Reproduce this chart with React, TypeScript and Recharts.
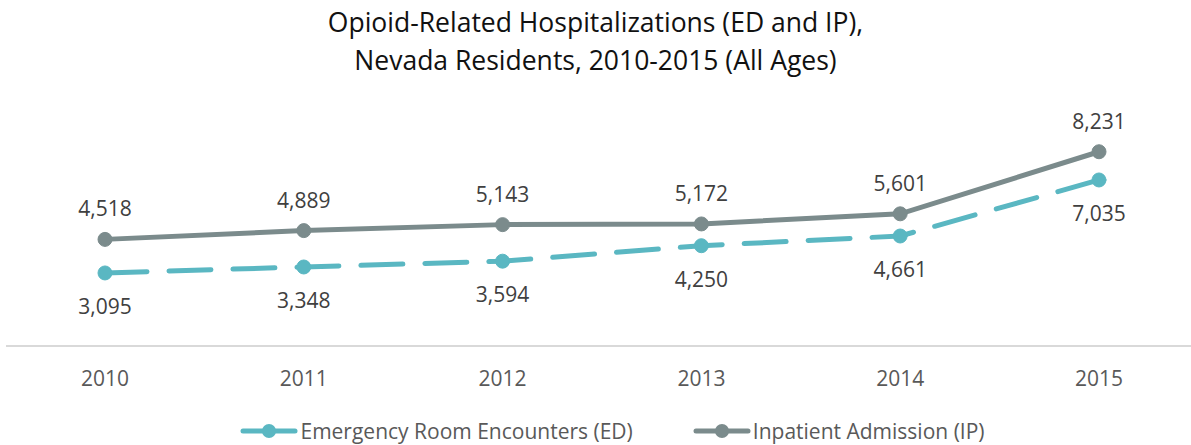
import React from 'react';
import { LineChart, Line, XAxis, YAxis, LabelList } from 'recharts';

const years = ['2010', '2011', '2012', '2013', '2014', '2015'];
const edValues = [3095, 3348, 3594, 4250, 4661, 7035];
const ipValues = [4518, 4889, 5143, 5172, 5601, 8231];

const ED_COLOR = '#5ab7c2';
const IP_COLOR = '#7b8b8c';
const FONT = '"Open Sans", "Noto Sans", sans-serif';

const data = years.map((y, i) => ({ year: y, ed: edValues[i], ip: ipValues[i] }));

const fmt = (v: any) => Number(v).toLocaleString('en-US');

const LegendIcon = ({ color }: { color: string }) => (
  <svg width={58} height={16} style={{ display: 'block' }}>
    <line x1={3} y1={8} x2={55} y2={8} stroke={color} strokeWidth={5} strokeLinecap="round" />
    <circle cx={29} cy={8} r={7} fill={color} />
  </svg>
);

export default function App() {
  return (
    <div style={{ position: 'absolute', left: 0, top: 0, width: 1191, height: 445, overflow: 'hidden', background: '#fff', fontFamily: FONT }}>
      <div style={{ position: 'absolute', left: 0, top: 3, width: 1191, textAlign: 'center', fontSize: 26.5, lineHeight: '38px', color: '#111' }}>
        Opioid-Related Hospitalizations (ED and IP),<br />Nevada Residents, 2010-2015 (All Ages)
      </div>
      <LineChart width={1200} height={445} data={data} margin={{ top: 110, right: 2, left: 6, bottom: 69 }}>
        <XAxis
          dataKey="year"
          height={30}
          padding={{ left: 99, right: 99 }}
          axisLine={{ stroke: '#d9d9d9', strokeWidth: 2 }}
          tickLine={false}
          tickMargin={19}
          tick={{ fontSize: 21, fill: '#595959', fontFamily: FONT }}
        />
        <YAxis hide domain={[0, 10000]} />
        <Line
          dataKey="ed"
          stroke={ED_COLOR}
          strokeWidth={5}
          strokeDasharray="42 22"
          strokeLinecap="round"
          dot={{ r: 7, fill: ED_COLOR, stroke: ED_COLOR, strokeWidth: 1, strokeDasharray: '0' }}
          isAnimationActive={false}
        >
          <LabelList dataKey="ed" position="bottom" offset={26} formatter={fmt} style={{ fontSize: 21, fill: '#404040', fontFamily: FONT }} />
        </Line>
        <Line
          dataKey="ip"
          stroke={IP_COLOR}
          strokeWidth={5}
          dot={{ r: 7, fill: IP_COLOR, stroke: IP_COLOR, strokeWidth: 1 }}
          isAnimationActive={false}
        >
          <LabelList dataKey="ip" position="top" offset={23} formatter={fmt} style={{ fontSize: 21, fill: '#404040', fontFamily: FONT }} />
        </Line>
      </LineChart>
      <div style={{ position: 'absolute', left: 0, top: 418, width: 1191, paddingLeft: 34, boxSizing: 'border-box', display: 'flex', justifyContent: 'center', alignItems: 'center', fontSize: 21, color: '#595959', lineHeight: '26px' }}>
        <div style={{ display: 'flex', alignItems: 'center', marginRight: 60 }}>
          <LegendIcon color={ED_COLOR} />
          <span style={{ marginLeft: 2 }}>Emergency Room Encounters (ED)</span>
        </div>
        <div style={{ display: 'flex', alignItems: 'center' }}>
          <LegendIcon color={IP_COLOR} />
          <span style={{ marginLeft: 2 }}>Inpatient Admission (IP)</span>
        </div>
      </div>
    </div>
  );
}
